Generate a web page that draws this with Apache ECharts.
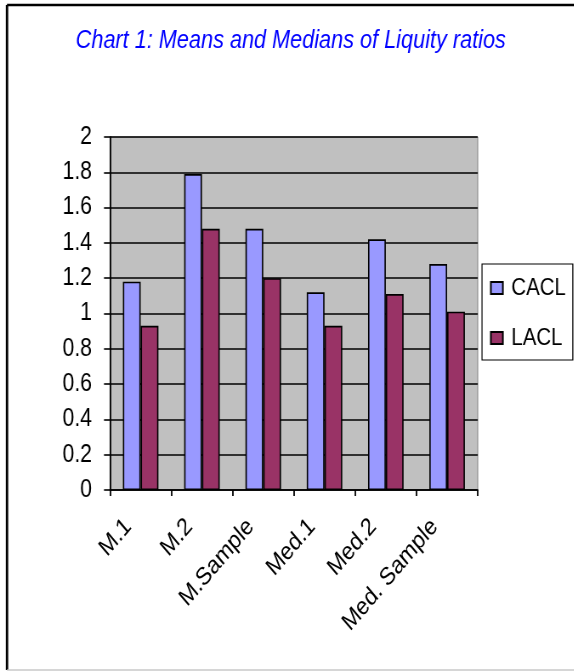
<!DOCTYPE html>
<html>
<head>
<meta charset="utf-8">
<script src="https://cdn.jsdelivr.net/npm/echarts@6/dist/echarts.min.js"></script>
<style>
  html, body { margin: 0; padding: 0; background: #ffffff; overflow: hidden; width: 574px; height: 671px; }
  /* the chart is laid out wide and squeezed horizontally, giving the condensed lettering */
  #chart { width: 675.3px; height: 671px; transform: scaleX(0.85); transform-origin: 0 0; }
</style>
</head>
<body>
<div id="chart"></div>
<script>
// Liquidity ratios: means and medians by group
const categories = ['M.1', 'M.2', 'M.Sample', 'Med.1', 'Med.2', 'Med. Sample'];
const caclValues = [1.18, 1.79, 1.48, 1.12, 1.42, 1.28];
const laclValues = [0.93, 1.48, 1.20, 0.93, 1.11, 1.01];
const seriesNames = ['CACL', 'LACL'];

const SCALE_X = 0.85;                 // horizontal squeeze applied by CSS
const sx = v => v / SCALE_X;          // on-screen x distance -> chart x distance
const FONT = '"Liberation Sans", Arial, sans-serif';

const chart = echarts.init(document.getElementById('chart'), null, { renderer: 'canvas' });

chart.setOption({
  backgroundColor: '#ffffff',
  animation: false,
  title: {
    text: 'Chart 1: Means and Medians of Liquity ratios',
    left: sx(286.5),
    textAlign: 'center',
    top: 23,
    textStyle: {
      fontFamily: FONT,
      fontSize: 25.5,
      fontStyle: 'italic',
      fontWeight: 'normal',
      color: '#0000ff'
    }
  },
  legend: {
    orient: 'vertical',
    left: sx(482),
    top: 264,
    padding: [12, sx(7), 10, sx(8)],
    itemGap: 26,
    itemWidth: sx(12),
    itemHeight: 12,
    icon: 'rect',
    borderColor: '#000000',
    borderWidth: 1.2,
    backgroundColor: '#ffffff',
    textStyle: {
      fontFamily: FONT,
      fontSize: 24,
      color: '#000000',
      padding: [0, 0, 0, 5]
    },
    data: seriesNames
  },
  grid: {
    left: sx(110),
    right: sx(96),
    top: 137,
    bottom: 181,
    show: true,
    backgroundColor: '#c0c0c0',
    borderColor: '#808080',
    borderWidth: 1
  },
  xAxis: {
    type: 'category',
    data: categories,
    axisLine: { lineStyle: { color: '#000000', width: 1.6 } },
    axisTick: { show: true, length: 6, lineStyle: { color: '#000000', width: 1.8 } },
    axisLabel: {
      rotate: 45,
      margin: 18,
      padding: [0, 21, 0, 0],
      interval: 0,
      fontFamily: FONT,
      fontSize: 25,
      color: '#000000'
    }
  },
  yAxis: {
    type: 'value',
    min: 0,
    max: 2,
    interval: 0.2,
    axisLine: { show: true, lineStyle: { color: '#000000', width: 1.8 } },
    axisTick: { show: true, length: sx(6), lineStyle: { color: '#000000', width: 1.6 } },
    splitLine: { show: true, lineStyle: { color: '#000000', width: 1.6 } },
    axisLabel: {
      margin: sx(18),
      fontFamily: FONT,
      fontSize: 25,
      color: '#000000'
    }
  },
  series: [
    {
      name: seriesNames[0],
      type: 'bar',
      data: caclValues,
      barGap: '0%',
      barCategoryGap: '42%',
      itemStyle: { color: '#9999ff', borderColor: '#000000', borderWidth: 1.6 }
    },
    {
      name: seriesNames[1],
      type: 'bar',
      data: laclValues,
      itemStyle: { color: '#993366', borderColor: '#000000', borderWidth: 1.6 }
    }
  ],
  graphic: [
    { type: 'line', shape: { x1: sx(7), y1: 5, x2: sx(574), y2: 5 }, style: { stroke: '#000000', lineWidth: 2.5 } },
    { type: 'line', shape: { x1: sx(7), y1: 5, x2: sx(7), y2: 670 }, style: { stroke: '#000000', lineWidth: 2.8 } },
    { type: 'line', shape: { x1: sx(7), y1: 670, x2: sx(574), y2: 670 }, style: { stroke: '#c8c8c8', lineWidth: 1.5 } }
  ]
});
</script>
</body>
</html>
